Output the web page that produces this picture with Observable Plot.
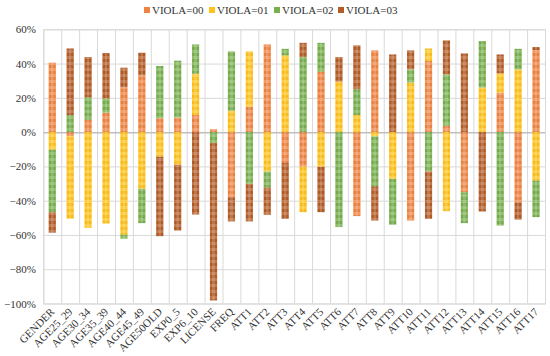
<!DOCTYPE html>
<html>
<head>
<meta charset="utf-8">
<script src="https://cdn.jsdelivr.net/npm/d3@7"></script>
<script src="https://cdn.jsdelivr.net/npm/@observablehq/plot@0.6"></script>
<style>
  html, body { margin: 0; padding: 0; background: #fff; }
  #legend { height: 20px; position: relative; font-family: "Liberation Serif", "Times New Roman", serif; font-size: 11px; color: #333; }
  #legend .item { position: absolute; top: 4px; line-height: 12px; white-space: nowrap; }
  #legend .sw { display: inline-block; width: 6px; height: 6px; margin-right: 2px; vertical-align: 1px; }
  svg { display: block; }
  svg text, svg g { font-family: "Liberation Serif", "Times New Roman", serif !important; }
</style>
</head>
<body>
<div id="legend"></div>
<div id="chart"></div>
<script>
const categories = ["GENDER","AGE25_29","AGE30_34","AGE35_39","AGE40_44","AGE45_49","AGE50OLD","EXP0_5","EXP6_10","LICENSE","FREQ",
  "ATT1","ATT2","ATT3","ATT4","ATT5","ATT6","ATT7","ATT8","ATT9","ATT10","ATT11","ATT12","ATT13","ATT14","ATT15","ATT16","ATT17"];
const seriesNames = ["VIOLA=00","VIOLA=01","VIOLA=02","VIOLA=03"];
const seriesColors = ["#ef8442","#ffc21a","#78b04e","#b55c26"];
const v00 = [40.5, -2.5, 7.2, 11.4, 26.2, 33.1, 8.1, 8.5, 10, 1.7, -38, 14.9, 51.2, -18, -20.2, 35.3, 0, -49, 47.7, 0, -51.6, 41.5, 3.7, -35.1, 0, 23.1, -40.9, 47.8];
const v01 = [-10.3, -48, -55.8, -53.3, -59.9, -33.1, -14.3, -19, 24.1, 0, 12.4, 32.2, -23, 44.8, -26.5, -20.2, 29.5, 10, -2.5, -27.3, 28.9, 7.3, -46.1, 0, 26, 11.2, 36.6, -28.3];
const v02 = [-36.4, 9.9, 13.1, 8.2, -2.3, -20, 30.5, 33.2, 17.1, -6.4, 34.7, -30.2, -9.4, 3.8, 43.8, 16.8, -55.4, 15, -29.1, -26.7, 7.7, -22.9, 30, -18, 27.1, -54.5, 12, -21.3];
const v03 = [-12, 38.9, 23.5, 26.5, 11.4, 13.2, -46.4, -38.4, -48.1, -91.8, -14.1, -21.9, -15.9, -32.6, 8.3, -26.5, 14.3, 25.6, -20, 45.3, 11.1, -27.7, 19.8, 45.9, -46.3, 11, -10.1, 1.8];
const yTicks = [-100, -80, -60, -40, -20, 0, 20, 40, 60];

const seriesValues = [v00, v01, v02, v03];
const data = [];
categories.forEach((c, i) => {
  seriesNames.forEach((s, j) => {
    data.push({category: c, series: s, value: seriesValues[j][i]});
  });
});

const fmt = d => (d < 0 ? "\u2212" : "") + Math.abs(d) + "%";
const W = 550, H = 336;
const mL = 43.3, mR = 5, mT = 9.3, mB = 52.5;
const step = (W - mL - mR) / categories.length;

const chart = Plot.plot({
  width: W,
  height: H,
  marginLeft: mL,
  marginRight: mR,
  marginTop: mT,
  marginBottom: mB,
  style: {fontFamily: "'Liberation Serif', 'Times New Roman', serif", fontSize: "11px", color: "#333", background: "#fff"},
  x: {domain: categories, paddingInner: 0.6, paddingOuter: 0.3, round: false, label: null},
  y: {domain: [-100, 60], label: null},
  color: {domain: seriesNames, range: seriesColors},
  marks: [
    Plot.ruleY(yTicks.filter(d => d !== 0), {stroke: "#d9d9d9", strokeWidth: 1}),
    Plot.ruleX(categories, {x: d => d, dx: -step / 2, stroke: "#d9d9d9", strokeWidth: 1}),
    Plot.frame({stroke: "#d9d9d9", strokeWidth: 1}),
    Plot.ruleY([0], {stroke: "#bfbfbf", strokeWidth: 1.5}),
    Plot.barY(data, {x: "category", y: "value", z: "series", fill: "series"}),
    Plot.barY(data, {x: "category", y: "value", z: "series", fill: "url(#stripes)"}),
    Plot.barY(data, {x: "category", y: "value", z: "series", fill: "url(#shine)"}),
    Plot.axisY({ticks: yTicks, tickFormat: fmt, tickSize: 0, tickPadding: 8, fill: "#333", fontSize: 11}),
    Plot.axisX({tickRotate: -45, tickSize: 0, tickPadding: 6, fill: "#333", fontSize: 11})
  ]
});

const svg = d3.select(chart);
const defs = svg.insert("defs", ":first-child");
const pat = defs.append("pattern")
  .attr("id", "stripes")
  .attr("patternUnits", "userSpaceOnUse")
  .attr("width", 20).attr("height", 6);
pat.append("rect").attr("x", 0).attr("y", 0).attr("width", 20).attr("height", 3)
  .attr("fill", "#fff").attr("fill-opacity", 0.16);
pat.append("rect").attr("x", 0).attr("y", 3).attr("width", 20).attr("height", 3)
  .attr("fill", "#000").attr("fill-opacity", 0.03);
const grad = defs.append("linearGradient").attr("id", "shine")
  .attr("x1", 0).attr("x2", 1).attr("y1", 0).attr("y2", 0);
[[0, 0], [0.3, 0], [0.35, 0.18], [0.65, 0.18], [0.7, 0], [1, 0]].forEach(([o, a]) => {
  grad.append("stop").attr("offset", o).attr("stop-color", "#fff").attr("stop-opacity", a);
});

document.getElementById("chart").appendChild(chart);

const legend = document.getElementById("legend");
const legendX = [144, 209, 274, 338];
seriesNames.forEach((s, j) => {
  const it = document.createElement("div");
  it.className = "item";
  it.style.left = legendX[j] + "px";
  it.innerHTML = `<span class="sw" style="background:${seriesColors[j]}"></span>${s}`;
  legend.appendChild(it);
});
</script>
</body>
</html>
